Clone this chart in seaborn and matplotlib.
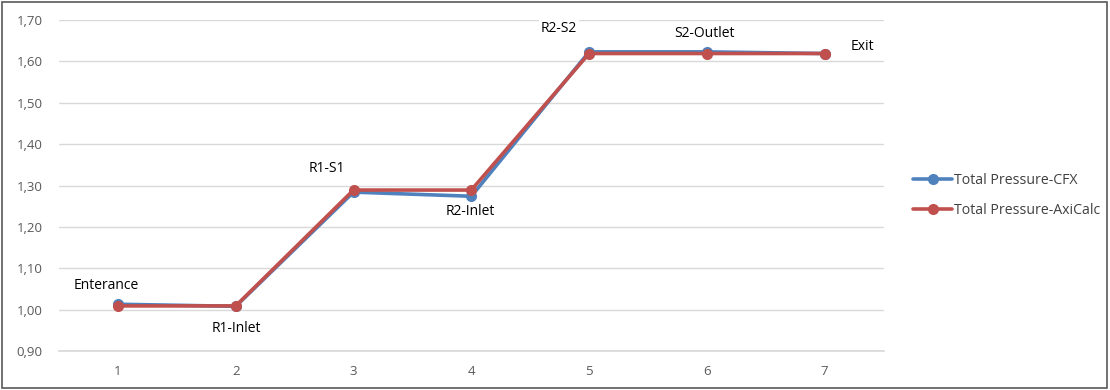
import matplotlib
matplotlib.use("Agg")
import matplotlib.pyplot as plt
import seaborn as sns
import pandas as pd
from matplotlib.patches import Rectangle

stations = [1, 2, 3, 4, 5, 6, 7]
station_names = ["Enterance", "R1-Inlet", "R1-S1", "R2-Inlet", "R2-S2", "S2-Outlet", "Exit"]
cfx = [1.013, 1.008, 1.284, 1.274, 1.623, 1.623, 1.619]
axicalc = [1.009, 1.009, 1.289, 1.289, 1.619, 1.619, 1.619]
y_ticks = [0.90, 1.00, 1.10, 1.20, 1.30, 1.40, 1.50, 1.60, 1.70]

series_names = ["Total Pressure-CFX", "Total Pressure-AxiCalc"]
colors = {"Total Pressure-CFX": "#4F81BD", "Total Pressure-AxiCalc": "#C0504D"}

df = pd.DataFrame({
    "Station": stations * 2,
    "Pressure": cfx + axicalc,
    "Series": [series_names[0]] * len(stations) + [series_names[1]] * len(stations),
})

sns.set_theme(style="white")
plt.rcParams["font.family"] = ["Open Sans", "DejaVu Sans"]

fig = plt.figure(figsize=(11.1, 3.9), dpi=100)
ax = fig.add_axes([0.0532, 0.1, 0.7428, 0.8487])

sns.lineplot(data=df, x="Station", y="Pressure", hue="Series", hue_order=series_names,
             palette=colors, marker="o", markersize=8, markeredgewidth=0,
             linewidth=2.6, ax=ax, legend=True)

ax.set_xlim(0.5, 7.5)
ax.set_ylim(0.90, 1.70)
ax.set_yticks(y_ticks)
ax.set_yticklabels([f"{v:.2f}".replace(".", ",") for v in y_ticks])
ax.set_xticks(stations)
ax.set_xticklabels([str(s) for s in stations])
ax.set_xlabel("")
ax.set_ylabel("")
ax.grid(axis="y", color="#D9D9D9", linewidth=1)
ax.set_axisbelow(True)
for side in ["top", "right", "left"]:
    ax.spines[side].set_visible(False)
ax.spines["bottom"].set_color("#D9D9D9")
ax.tick_params(axis="both", length=0, labelsize=9.5, colors="#595959")
ax.tick_params(axis="x", pad=10)
ax.tick_params(axis="y", pad=12)

# station labels (offsets in points from the AxiCalc markers)
label_offsets = [(-8.6, 14.4), (0.7, -16.6), (-19.4, 15.8), (-0.7, -15.8),
                 (-21.6, 18.0), (-1.4, 14.4), (27.4, 5.0)]
for x, name, yv, (dx, dy) in zip(stations, station_names, axicalc, label_offsets):
    ax.annotate(name, (x, yv), xytext=(dx, dy), textcoords="offset points",
                ha="center", va="center", fontsize=10, color="#000000",
                bbox=dict(boxstyle="square,pad=0.15", facecolor="white", edgecolor="none"))

leg = ax.legend(loc="center left", bbox_to_anchor=(1.02, 0.47), frameon=False,
                fontsize=10.2, handlelength=2.8, handletextpad=0.1, labelspacing=1.1)
for t in leg.get_texts():
    t.set_color("#404040")

fig.patches.append(Rectangle((0.002, 0.004), 0.995, 0.992, transform=fig.transFigure,
                             fill=False, edgecolor="#595959", linewidth=1.2))

fig.savefig("out.png", dpi=100, facecolor="white")
